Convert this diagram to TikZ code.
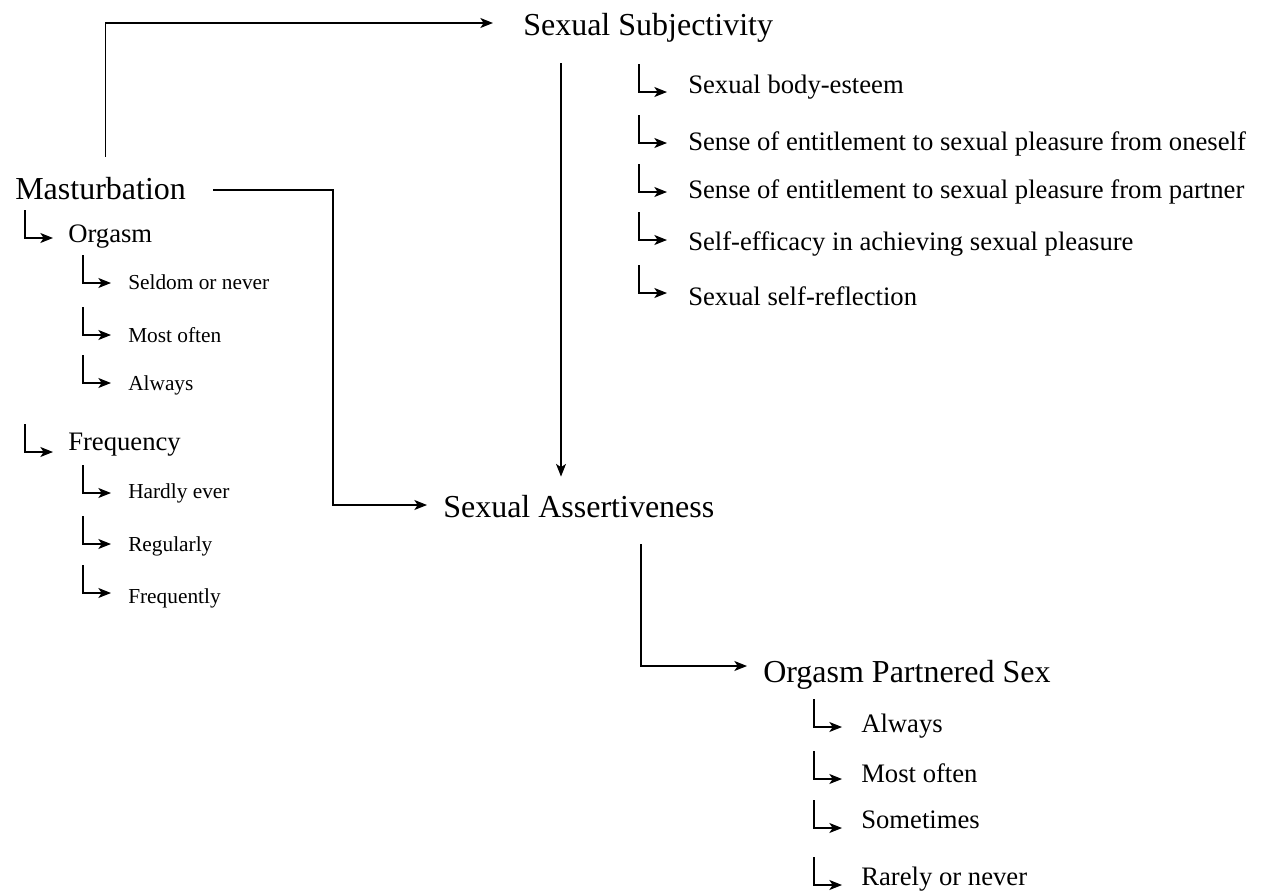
\documentclass[tikz,border=0pt]{standalone}
\usepackage{fontspec}
\setmainfont{Liberation Serif}
\usetikzlibrary{arrows.meta,calc}

\tikzset{
  arr/.style={-{Stealth[length=9.5pt,width=7.5pt,inset=2.5pt]},line width=0.9pt},
  txt/.style={anchor=base west,inner sep=0pt},
  big/.style={txt,font=\fontsize{24}{28}\selectfont},
  mid/.style={txt,font=\fontsize{20}{24}\selectfont},
  small/.style={txt,font=\fontsize{16}{19}\selectfont}
}
% #1 node, #2 gap before the text, #3 rise of the arrow above the baseline
\newcommand{\branch}[3]{%
  \draw[arr] ($(#1.base west)+({-(#2)-28},{-(#3)-28})$) |- ($(#1.base west)+({-(#2)},{-(#3)})$);}

\begin{document}
\begin{tikzpicture}[x=0.75pt,y=-0.75pt]
\useasboundingbox (0,0) rectangle (1263,893);

% main concepts
\node[big] (mast) at (15,199) {Masturbation};
\node[big] (subj) at (523,35) {Sexual Subjectivity};
\node[big] (assert) at (443,517) {Sexual Assertiveness};
\node[big] (ops) at (763,682) {Orgasm Partnered Sex};

% links between them
\draw[arr] ($(mast.north)+(5,-20)$) |- ($(subj.base west)+(-30,-12)$);

\coordinate (mastout) at ($(mast.base east)+(27,-9)$);
\coordinate (bendA) at (333,0);
\draw[arr] (mastout) -- (mastout -| bendA) |- ($(assert.base west)+(-16,-12)$);

\coordinate (subjout) at ($(subj.base west)+(38,28)$);
\draw[arr,shorten >=13.5pt] (subjout) -- (subjout |- assert.north);

\coordinate (assertout) at ($(assert.base west)+(198,27)$);
\draw[arr] (assertout) |- ($(ops.base west)+(-16,-16)$);

% masturbation
\foreach \id/\lbl/\base/\rise in {org/Orgasm/242/4, freq/Frequency/450/-2}
  {\node[mid] (\id) at (68,\base) {\lbl};
   \branch{\id}{15}{\rise}}
\foreach \id/\lbl/\base/\rise in {seldom/Seldom or never/289/6, mostoften/Most often/342/7,
    always/Always/390/7, hardly/Hardly ever/498/5, regularly/Regularly/551/7,
    frequently/Frequently/603/10}
  {\node[small] (\id) at (128,\base) {\lbl};
   \branch{\id}{17}{\rise}}

% sexual subjectivity
\foreach \id/\lbl/\base/\rise in {esteem/Sexual body-esteem/93/1,
    selfent/Sense of entitlement to sexual pleasure from oneself/150/7,
    partent/Sense of entitlement to sexual pleasure from partner/198/6,
    efficacy/Self-efficacy in achieving sexual pleasure/250/10,
    reflect/Sexual self-reflection/305/12}
  {\node[mid] (\id) at (688,\base) {\lbl};
   \branch{\id}{21}{\rise}}

% orgasm partnered sex
\foreach \id/\lbl/\base/\rise in {palways/Always/732/5, pmost/Most often/782/3,
    psome/Sometimes/828/0, prare/Rarely or never/885/0}
  {\node[mid] (\id) at (861,\base) {\lbl};
   \branch{\id}{19}{\rise}}

\end{tikzpicture}
\end{document}
